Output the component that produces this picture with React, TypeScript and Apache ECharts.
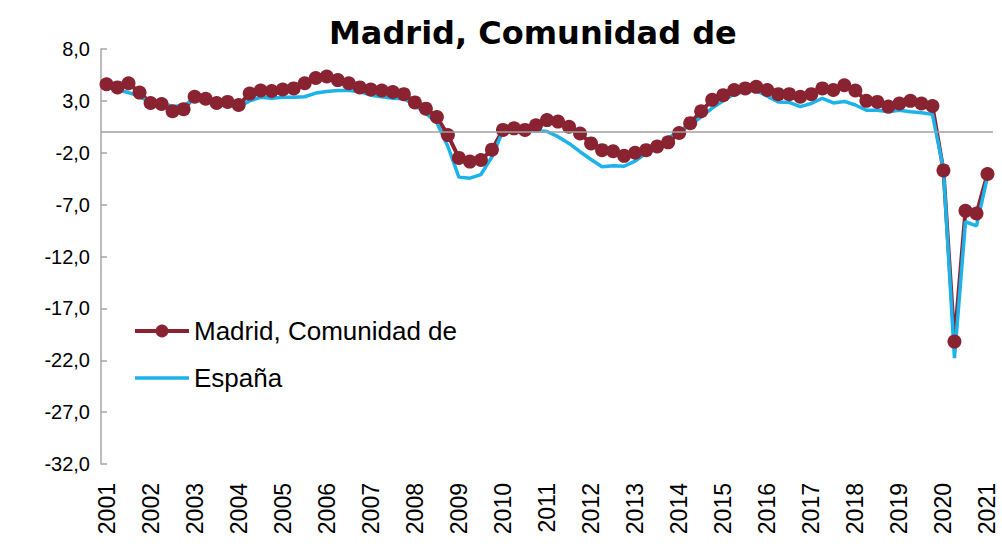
import React, { useEffect, useRef } from "react";
import * as echarts from "echarts";

const years = [2001,2002,2003,2004,2005,2006,2007,2008,2009,2010,2011,2012,2013,2014,2015,2016,2017,2018,2019,2020,2021];
const quarters: string[] = [];
years.forEach((y) => {
  for (let q = 1; q <= 4; q++) {
    if (y === 2021 && q > 1) break;
    quarters.push(`${y}T${q}`);
  }
});

const madrid = [
  4.6, 4.3, 4.7, 3.8, 2.8, 2.7, 2.0, 2.2, 3.4, 3.2, 2.8, 2.9, 2.6, 3.7, 4.0, 3.95,
  4.1, 4.2, 4.7, 5.2, 5.35, 5.0, 4.7, 4.3, 4.1, 4.0, 3.85, 3.65, 2.85, 2.25, 1.45,
  -0.3, -2.5, -2.85, -2.7, -1.7, 0.2, 0.35, 0.2, 0.65, 1.15, 1.0, 0.5, -0.15,
  -1.1, -1.75, -1.85, -2.3, -2.0, -1.75, -1.4, -1.0, -0.1, 0.85, 2.0, 3.1, 3.55,
  4.05, 4.2, 4.35, 4.05, 3.65, 3.65, 3.4, 3.65, 4.2, 4.05, 4.5, 4.0, 3.0, 2.9,
  2.45, 2.75, 3.0, 2.75, 2.5, -3.7, -20.2, -7.6, -7.85, -4.05,
];

const espana = [
  4.4, 4.05, 3.8, 3.45, 2.8, 2.85, 2.45, 2.55, 3.15, 2.85, 2.85, 3.0, 2.45, 3.0, 3.35, 3.25,
  3.35, 3.35, 3.4, 3.75, 3.9, 4.0, 4.0, 3.9, 3.55, 3.4, 3.25, 3.2, 2.6, 1.8, 0.9,
  -1.4, -4.35, -4.45, -4.1, -2.4, 0.1, 0.25, 0.05, 0.15, 0.05, -0.45, -1.1, -1.9,
  -2.65, -3.35, -3.25, -3.3, -2.8, -2.05, -1.55, -0.6, 0.1, 0.65, 1.45, 2.3, 3.0,
  3.65, 3.9, 4.0, 3.45, 2.9, 2.85, 2.45, 2.75, 3.25, 2.8, 2.95, 2.6, 2.1, 2.1,
  1.95, 2.1, 1.95, 1.85, 1.7, -3.6, -21.8, -8.65, -9.05, -4.3,
];

const yTicks = [-32, -27, -22, -17, -12, -7, -2, 3, 8];

const RED = "#8a2331";
const BLUE = "#1cb3ea";
const FONT = "'Liberation Sans', Arial, sans-serif";

export default function App() {
  const ref = useRef<HTMLDivElement>(null);
  useEffect(() => {
    document.body.style.margin = "0";
    const chart = echarts.init(ref.current!, null, { renderer: "svg" });
    chart.setOption({
      animation: false,
      title: {
        text: "Madrid, Comunidad de",
        left: 329,
        top: 17,
        padding: 0,
        textStyle: { fontFamily: "'DejaVu Sans', Verdana, sans-serif", fontWeight: "bold", fontSize: 32, color: "#000" },
      },
      legend: {
        orient: "vertical",
        left: 128,
        top: 312,
        itemWidth: 54,
        itemHeight: 16,
        itemGap: 19,
        textStyle: { fontFamily: FONT, fontSize: 26, color: "#000", lineHeight: 28 },
        data: [
          { name: "Madrid, Comunidad de", lineStyle: { width: 4 } },
          { name: "España", lineStyle: { width: 3.5 }, itemStyle: { color: "rgba(0,0,0,0)", borderWidth: 0 } },
        ],
      },
      grid: { left: 101, right: 9, top: 49, bottom: 80, containLabel: false },
      xAxis: {
        type: "category",
        data: quarters,
        boundaryGap: true,
        axisLine: { show: false },
        axisTick: { show: false },
        axisLabel: {
          rotate: 90,
          interval: (i: number) => i % 4 === 0,
          formatter: (v: string) => v.slice(0, 4),
          fontFamily: FONT,
          fontSize: 23,
          lineHeight: 17,
          color: "#000",
          margin: 19,
        },
      },
      yAxis: {
        type: "value",
        min: -32,
        max: 8,
        axisLine: { show: true, lineStyle: { color: "#a6a6a6", width: 1.5 } },
        axisTick: { show: true, inside: true, length: 6, customValues: yTicks, lineStyle: { color: "#a6a6a6", width: 1.5 } },
        splitLine: { show: false },
        axisLabel: {
          customValues: yTicks,
          formatter: (v: number) => v.toFixed(1).replace(".", ","),
          fontFamily: FONT,
          fontSize: 20,
          color: "#000",
          margin: 11,
        },
      },
      series: [
        {
          name: "Madrid, Comunidad de",
          type: "line",
          data: madrid,
          symbol: "circle",
          symbolSize: 14,
          showAllSymbol: true,
          itemStyle: { color: RED },
          lineStyle: { color: RED, width: 4 },
          markLine: {
            silent: true,
            symbol: "none",
            label: { show: false },
            lineStyle: { color: "#a0a0a0", type: "solid", width: 1.5 },
            data: [{ yAxis: 0 }],
          },
        },
        {
          name: "España",
          type: "line",
          data: espana,
          symbol: "none",
          itemStyle: { color: BLUE },
          lineStyle: { color: BLUE, width: 3.5 },
        },
      ],
    });
    return () => chart.dispose();
  }, []);
  return <div ref={ref} style={{ width: 1002, height: 544 }} />;
}
